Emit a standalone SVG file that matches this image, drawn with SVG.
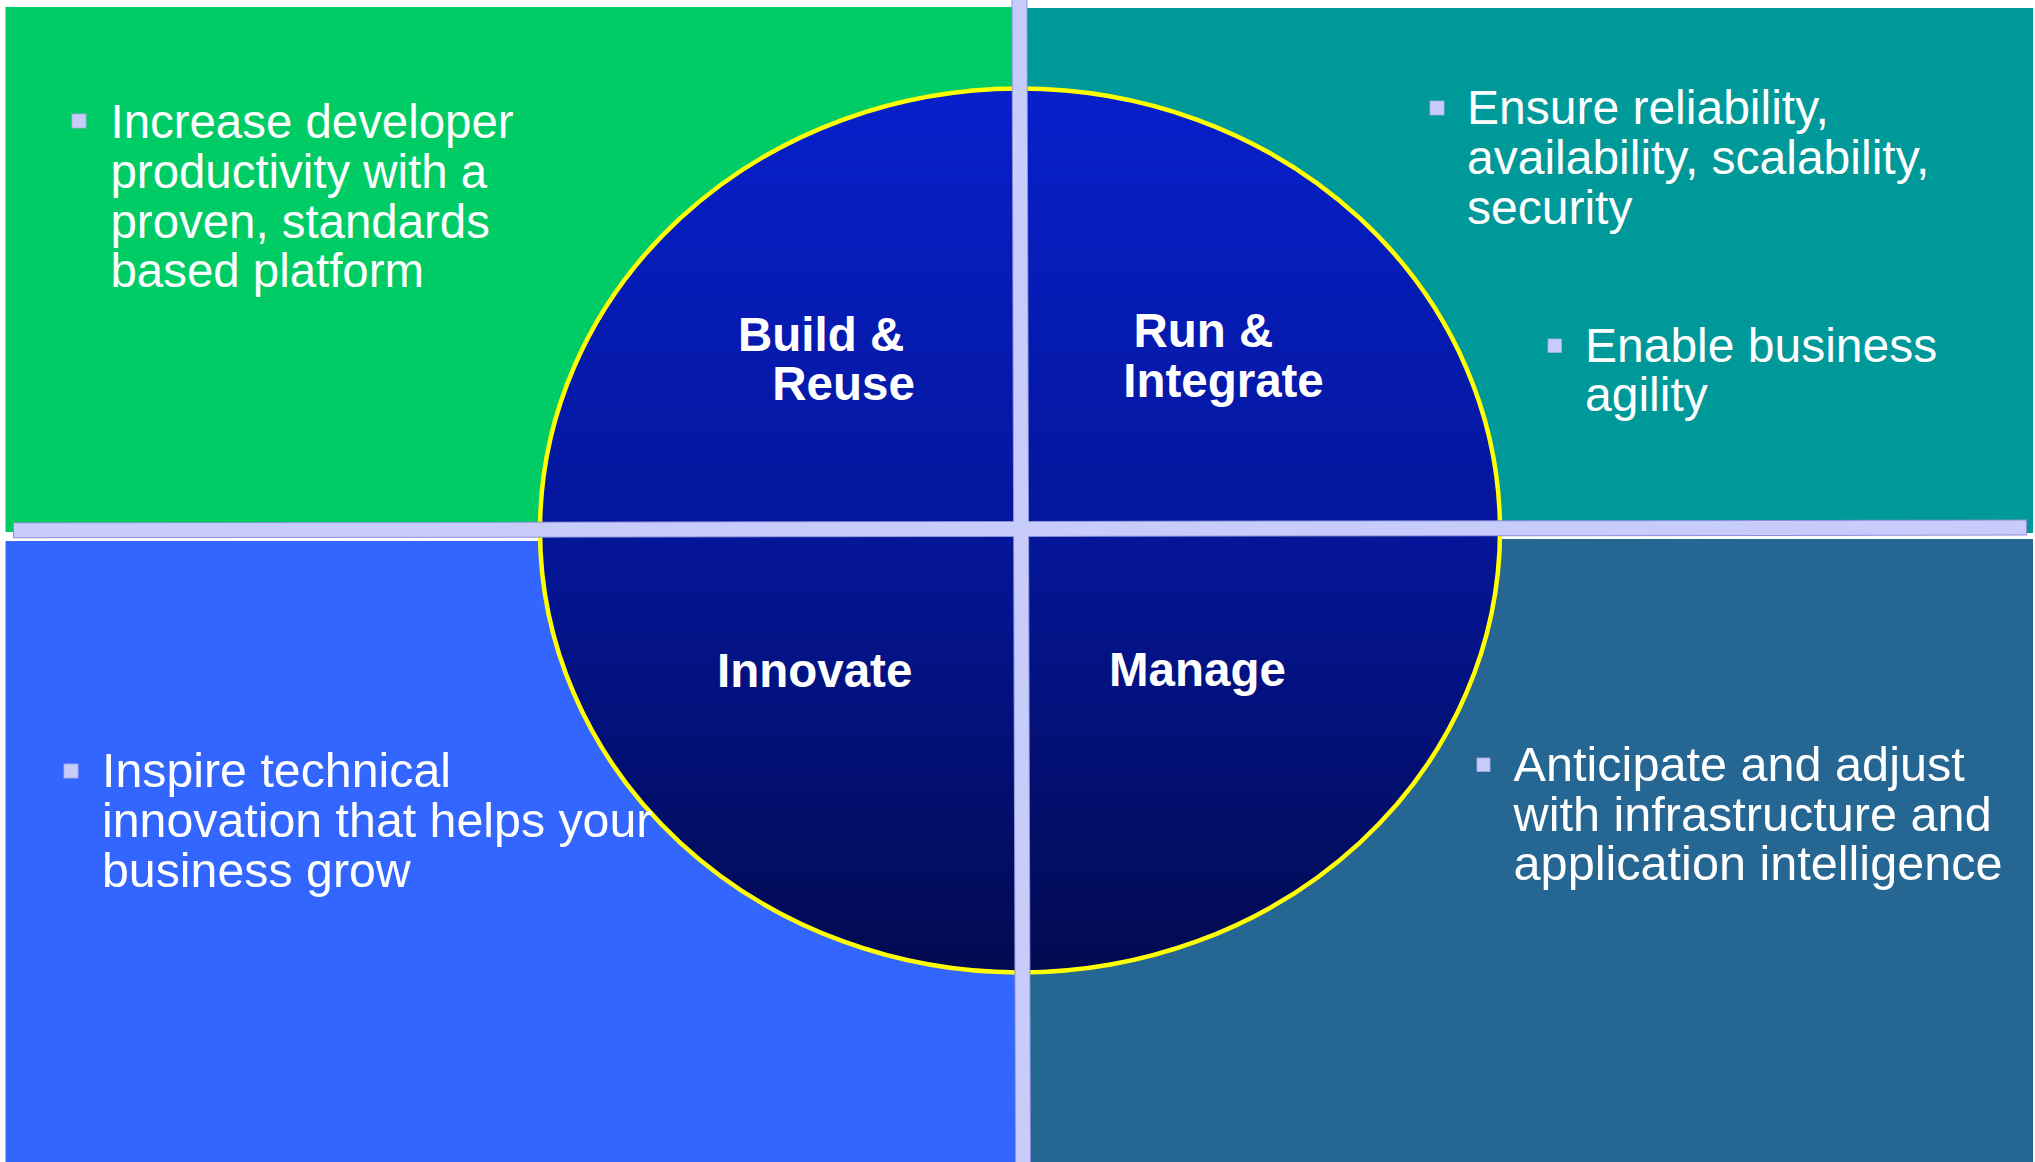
<svg xmlns="http://www.w3.org/2000/svg" width="2035" height="1162" viewBox="0 0 2035 1162">
<defs>
<linearGradient id="disc" x1="0" y1="0" x2="0" y2="1">
<stop offset="0" stop-color="#0820cc"/>
<stop offset="0.5" stop-color="#04169a"/>
<stop offset="1" stop-color="#020a50"/>
</linearGradient>
</defs>
<style>
.txt{font-family:"Liberation Sans",Arial,sans-serif;font-size:48px;fill:#ffffff}
.lbl{font-family:"Liberation Sans",Arial,sans-serif;font-size:47.5px;font-weight:bold;fill:#ffffff}
.bul{fill:#c8ccf8;stroke:#a8aee8;stroke-width:0.8}
.bar{fill:#c8ccfa}
.barline{fill:none;stroke:#8890d8;stroke-width:2}
</style>
<rect width="2035" height="1162" fill="#ffffff"/>
<g id="quadrant-build">
<rect x="5.5" y="7" width="1012" height="525" fill="#00cc66"/>
</g>
<g id="quadrant-run">
<rect x="1018" y="8" width="1015" height="525" fill="#009999"/>
</g>
<g id="quadrant-innovate">
<rect x="5.5" y="541" width="1014" height="621" fill="#3366ff"/>
</g>
<g id="quadrant-manage">
<rect x="1020" y="539" width="1013" height="623" fill="#266692"/>
</g>
<g id="disc">
<ellipse cx="1020" cy="530.5" rx="480" ry="442" fill="url(#disc)" stroke="#ffff00" stroke-width="4.5"/>
</g>
<g id="dividers">
<polygon class="barline" points="14,523.3 2026,520.6 2026,534.6 14,537.3"/>
<polygon class="barline" points="1012.5,0 1026.5,0 1030,1162 1016,1162"/>
<polygon class="bar" points="14,523.3 2026,520.6 2026,534.6 14,537.3"/>
<polygon class="bar" points="1012.5,0 1026.5,0 1030,1162 1016,1162"/>
</g>
<g id="label-build">
<text class="lbl" x="738" y="350.7">Build &amp;</text>
<text class="lbl" x="772.3" y="400">Reuse</text>
</g>
<g id="label-run">
<text class="lbl" x="1133.5" y="346.5">Run &amp;</text>
<text class="lbl" x="1123.2" y="396.7">Integrate</text>
</g>
<g id="label-innovate">
<text class="lbl" x="717" y="686.6">Innovate</text>
</g>
<g id="label-manage">
<text class="lbl" x="1109" y="685.8">Manage</text>
</g>
<g id="note-build" style="font-size:47.4px">
<rect class="bul" x="72" y="114" width="14" height="14"/>
<text class="txt" style="font-size:47.4px" x="110.5" y="138.3">Increase developer</text>
<text class="txt" style="font-size:47.4px" x="110.5" y="187.8">productivity with a</text>
<text class="txt" style="font-size:47.4px" x="110.5" y="237.5">proven, standards</text>
<text class="txt" style="font-size:47.4px" x="110.5" y="287">based platform</text>
</g>
<g id="note-run">
<rect class="bul" x="1430" y="101" width="14" height="14"/>
<text class="txt" x="1467" y="123.5">Ensure reliability,</text>
<text class="txt" x="1467" y="173.5">availability, scalability,</text>
<text class="txt" x="1467" y="223.5">security</text>
<rect class="bul" x="1548" y="339" width="13.5" height="13.5"/>
<text class="txt" x="1585" y="361.5">Enable business</text>
<text class="txt" x="1585" y="411">agility</text>
</g>
<g id="note-innovate">
<rect class="bul" x="64" y="764" width="14" height="14"/>
<text class="txt" style="font-size:48.3px" x="102" y="787.3">Inspire technical</text>
<text class="txt" style="font-size:48.3px" x="102" y="837.3">innovation that helps your</text>
<text class="txt" style="font-size:48.3px" x="102" y="886.7">business grow</text>
</g>
<g id="note-manage">
<rect class="bul" x="1477" y="758" width="13" height="13.5"/>
<text class="txt" style="font-size:48.6px" x="1513.6" y="780.7">Anticipate and adjust</text>
<text class="txt" style="font-size:48.6px" x="1513.6" y="830.7">with infrastructure and</text>
<text class="txt" style="font-size:48.6px" x="1513.6" y="880">application intelligence</text>
</g>
</svg>
